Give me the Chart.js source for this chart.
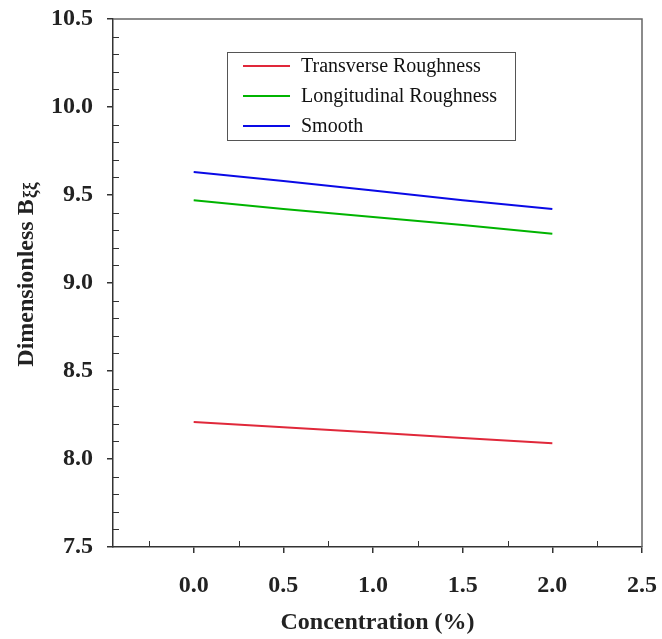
<!DOCTYPE html>
<html>
<head>
<meta charset="utf-8">
<script src="https://cdn.jsdelivr.net/npm/chart.js@4/dist/chart.umd.min.js"></script>
<style>
  html, body { margin: 0; padding: 0; background: #fff; }
  #wrap { width: 662px; height: 639px; }
</style>
</head>
<body>
<div id="wrap"><canvas id="chart" width="662" height="639"></canvas></div>
<script>
// values
var concentration = [0, 0.5, 1.0, 1.5, 2.0];
var transverse = [8.21, 8.18, 8.15, 8.12, 8.09];
var longitudinal = [9.47, 9.42, 9.375, 9.33, 9.28];
var smooth = [9.63, 9.58, 9.525, 9.47, 9.42];
var xTicks = [0, 0.5, 1.0, 1.5, 2.0, 2.5];
var yTicks = [7.5, 8.0, 8.5, 9.0, 9.5, 10.0, 10.5];
var seriesNames = ['Transverse Roughness', 'Longitudinal Roughness', 'Smooth'];

function pts(ys) {
  return concentration.map(function (x, i) { return { x: x, y: ys[i] }; });
}

var tickFont = { family: '"Liberation Serif", serif', size: 24, weight: 'bold' };
var axisColor = '#333';

// frame, inward minor ticks, legend box and axis titles
var extras = {
  id: 'extras',
  afterDraw: function (chart) {
    var ctx = chart.ctx, a = chart.chartArea, xs = chart.scales.x, ys = chart.scales.y;
    ctx.save();
    ctx.strokeStyle = '#666';
    ctx.lineWidth = 1.5;
    ctx.beginPath();
    ctx.moveTo(a.left, a.top); ctx.lineTo(a.right, a.top); ctx.lineTo(a.right, a.bottom);
    ctx.stroke();

    ctx.strokeStyle = axisColor;
    ctx.lineWidth = 1;
    ctx.beginPath();
    for (var i = 1; i < 30; i++) {
      if (i % 5 === 0) continue;
      var py = Math.round(ys.getPixelForValue(7.5 + i * 0.1)) + 0.5;
      ctx.moveTo(a.left, py); ctx.lineTo(a.left + 6, py);
    }
    for (var j = -1; j < 10; j += 2) {
      var px = Math.round(xs.getPixelForValue(j * 0.25)) + 0.5;
      if (px <= a.left) continue;
      ctx.moveTo(px, a.bottom); ctx.lineTo(px, a.bottom - 6);
    }
    ctx.stroke();

    // legend
    ctx.strokeStyle = '#555';
    ctx.lineWidth = 1;
    ctx.strokeRect(227.5, 52.5, 288, 88);
    ctx.font = '20px "Liberation Serif", serif';
    ctx.textBaseline = 'middle';
    ctx.fillStyle = '#111';
    var rows = [66, 96, 126];
    chart.data.datasets.forEach(function (ds, k) {
      ctx.strokeStyle = ds.borderColor;
      ctx.lineWidth = 2;
      ctx.beginPath();
      ctx.moveTo(243, rows[k]); ctx.lineTo(290, rows[k]);
      ctx.stroke();
      ctx.fillText(ds.label, 301, rows[k] + 1);
    });

    // axis titles
    ctx.fillStyle = '#222';
    ctx.font = 'bold 24px "Liberation Serif", serif';
    ctx.textAlign = 'center';
    ctx.fillText('Concentration (%)', (a.left + a.right) / 2, 623);

    ctx.translate(27, 275);
    ctx.rotate(-Math.PI / 2);
    var main = 'Dimensionless B', sub = 'ξξ';
    ctx.font = 'bold 24px "Liberation Serif", serif';
    var w1 = ctx.measureText(main).width;
    ctx.font = 'bold 18px "Liberation Serif", serif';
    var w2 = ctx.measureText(sub).width;
    var start = -(w1 + w2) / 2;
    ctx.textAlign = 'left';
    ctx.font = 'bold 24px "Liberation Serif", serif';
    ctx.fillText(main, start, 0);
    ctx.font = 'bold 18px "Liberation Serif", serif';
    ctx.fillText(sub, start + w1 + 1, 4);
    ctx.restore();
  }
};

new Chart(document.getElementById('chart'), {
  type: 'line',
  data: {
    datasets: [
      { label: seriesNames[0], data: pts(transverse), borderColor: '#e0283a' },
      { label: seriesNames[1], data: pts(longitudinal), borderColor: '#00b400' },
      { label: seriesNames[2], data: pts(smooth), borderColor: '#0a0ae6' }
    ].map(function (d) {
      d.borderWidth = 2; d.pointRadius = 0; d.fill = false; d.tension = 0;
      return d;
    })
  },
  options: {
    responsive: false,
    animation: false,
    layout: { padding: { top: 19, right: 20, left: 0, bottom: 0 } },
    plugins: { legend: { display: false }, tooltip: { enabled: false } },
    scales: {
      x: {
        type: 'linear',
        min: -0.45, max: 2.5,
        afterBuildTicks: function (s) { s.ticks = xTicks.map(function (v) { return { value: v }; }); },
        afterFit: function (s) { s.height = 92; s.paddingLeft = 0; s.paddingRight = 0; },
        ticks: {
          font: tickFont, color: '#222', padding: 18, maxRotation: 0,
          callback: function (v) { return v.toFixed(1); }
        },
        grid: { drawOnChartArea: false, drawTicks: true, tickLength: 6, color: axisColor, lineWidth: 1.5 },
        border: { display: true, color: axisColor, width: 1.5 }
      },
      y: {
        min: 7.5, max: 10.5,
        afterBuildTicks: function (s) { s.ticks = yTicks.map(function (v) { return { value: v }; }); },
        afterFit: function (s) { s.width = 113; s.paddingTop = 0; s.paddingBottom = 0; },
        ticks: {
          font: tickFont, color: '#222', padding: 14,
          callback: function (v) { return v.toFixed(1); }
        },
        grid: { drawOnChartArea: false, drawTicks: true, tickLength: 6, color: axisColor, lineWidth: 1.5 },
        border: { display: true, color: axisColor, width: 1.5 }
      }
    }
  },
  plugins: [extras]
});
</script>
</body>
</html>
